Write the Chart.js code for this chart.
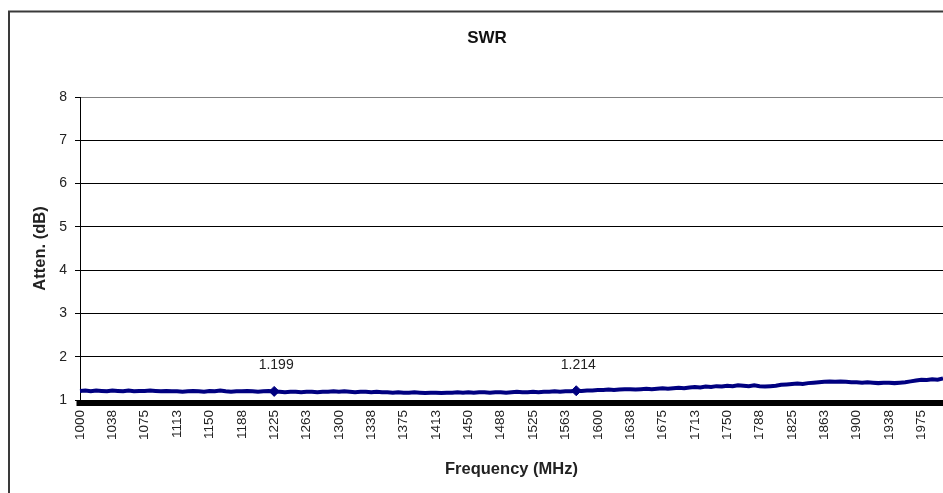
<!DOCTYPE html>
<html>
<head>
<meta charset="utf-8">
<script src="https://cdn.jsdelivr.net/npm/chart.js@4/dist/chart.umd.min.js"></script>
<style>
  html, body { margin: 0; padding: 0; background: #fff; overflow: hidden; }
  canvas { display: block; }
</style>
</head>
<body>
<canvas id="c" width="943" height="493"></canvas>
<script>
// Frequencies (MHz) — categories
const frequencies = [
  1000,1006.25,1012.5,1018.75,1025,1031.25,
  1037.5,1043.75,1050,1056.25,1062.5,1068.75,
  1075,1081.25,1087.5,1093.75,1100,1106.25,
  1112.5,1118.75,1125,1131.25,1137.5,1143.75,
  1150,1156.25,1162.5,1168.75,1175,1181.25,
  1187.5,1193.75,1200,1206.25,1212.5,1218.75,
  1225,1231.25,1237.5,1243.75,1250,1256.25,
  1262.5,1268.75,1275,1281.25,1287.5,1293.75,
  1300,1306.25,1312.5,1318.75,1325,1331.25,
  1337.5,1343.75,1350,1356.25,1362.5,1368.75,
  1375,1381.25,1387.5,1393.75,1400,1406.25,
  1412.5,1418.75,1425,1431.25,1437.5,1443.75,
  1450,1456.25,1462.5,1468.75,1475,1481.25,
  1487.5,1493.75,1500,1506.25,1512.5,1518.75,
  1525,1531.25,1537.5,1543.75,1550,1556.25,
  1562.5,1568.75,1575,1581.25,1587.5,1593.75,
  1600,1606.25,1612.5,1618.75,1625,1631.25,
  1637.5,1643.75,1650,1656.25,1662.5,1668.75,
  1675,1681.25,1687.5,1693.75,1700,1706.25,
  1712.5,1718.75,1725,1731.25,1737.5,1743.75,
  1750,1756.25,1762.5,1768.75,1775,1781.25,
  1787.5,1793.75,1800,1806.25,1812.5,1818.75,
  1825,1831.25,1837.5,1843.75,1850,1856.25,
  1862.5,1868.75,1875,1881.25,1887.5,1893.75,
  1900,1906.25,1912.5,1918.75,1925,1931.25,
  1937.5,1943.75,1950,1956.25,1962.5,1968.75,
  1975,1981.25,1987.5,1993.75,2000
];

// SWR values
const swrValues = [
  1.21,1.22,1.20,1.22,1.21,1.20,
  1.22,1.21,1.20,1.22,1.20,1.21,
  1.21,1.22,1.21,1.20,1.21,1.20,
  1.20,1.19,1.20,1.21,1.20,1.19,
  1.21,1.20,1.22,1.20,1.19,1.20,
  1.20,1.21,1.20,1.19,1.20,1.21,
  1.199,1.19,1.18,1.19,1.19,1.18,
  1.19,1.19,1.18,1.19,1.19,1.20,
  1.19,1.20,1.19,1.18,1.19,1.19,
  1.18,1.19,1.18,1.18,1.17,1.18,
  1.17,1.17,1.18,1.17,1.16,1.17,
  1.17,1.16,1.17,1.17,1.18,1.17,
  1.18,1.17,1.18,1.18,1.17,1.18,
  1.18,1.17,1.18,1.19,1.18,1.18,
  1.19,1.18,1.19,1.19,1.20,1.19,
  1.20,1.20,1.214,1.21,1.22,1.22,
  1.23,1.23,1.24,1.23,1.24,1.25,
  1.25,1.24,1.25,1.26,1.25,1.26,
  1.27,1.26,1.27,1.28,1.27,1.29,
  1.30,1.29,1.31,1.30,1.32,1.31,
  1.33,1.32,1.34,1.33,1.32,1.34,
  1.32,1.31,1.32,1.33,1.35,1.36,
  1.37,1.38,1.37,1.39,1.40,1.41,
  1.42,1.43,1.42,1.43,1.42,1.41,
  1.41,1.40,1.41,1.40,1.39,1.40,
  1.40,1.39,1.40,1.41,1.43,1.45,
  1.47,1.46,1.48,1.47,1.50
];

// Marked (labelled) points
const markerFreqs = [1225, 1575];

// X tick labels shown
const tickFreqs = [1000,1037.5,1075,1112.5,1150,1187.5,1225,1262.5,1300,1337.5,1375,1412.5,1450,1487.5,1525,1562.5,1600,1637.5,1675,1712.5,1750,1787.5,1825,1862.5,1900,1937.5,1975];
const tickLabels = ['1000','1038','1075','1113','1150','1188','1225','1263','1300','1338','1375','1413','1450','1488','1525','1563','1600','1638','1675','1713','1750','1788','1825','1863','1900','1938','1975'];

const chartTitle = 'SWR';

const FONT = "'Liberation Sans', Arial, sans-serif";
const NAVY = '#000080';

const framePlugin = {
  id: 'frame',
  beforeDraw(chart) {
    const ctx = chart.ctx;
    ctx.save();
    ctx.fillStyle = '#fff';
    ctx.fillRect(0, 0, chart.width, chart.height);
    ctx.strokeStyle = '#3a3a3a';
    ctx.lineWidth = 2;
    ctx.beginPath();
    ctx.moveTo(9, chart.height + 5);
    ctx.lineTo(9, 11.5);
    ctx.lineTo(chart.width + 5, 11.5);
    ctx.stroke();
    // chart title
    ctx.font = 'bold 17px ' + FONT;
    ctx.fillStyle = '#111';
    ctx.textAlign = 'center';
    ctx.textBaseline = 'middle';
    ctx.fillText(chartTitle, 487, 38);
    ctx.restore();
  }
};

const pointLabelPlugin = {
  id: 'pointLabels',
  afterDatasetsDraw(chart) {
    const ctx = chart.ctx;
    const meta = chart.getDatasetMeta(0);
    ctx.save();
    ctx.font = '14px ' + FONT;
    ctx.fillStyle = '#222';
    ctx.textAlign = 'center';
    ctx.textBaseline = 'middle';
    frequencies.forEach((f, i) => {
      if (markerFreqs.includes(f)) {
        const pt = meta.data[i];
        ctx.fillText(swrValues[i].toFixed(3), pt.x + 2, pt.y - 26);
      }
    });
    ctx.restore();
  }
};

new Chart(document.getElementById('c'), {
  type: 'line',
  data: {
    labels: frequencies,
    datasets: [{
      data: swrValues,
      borderColor: NAVY,
      backgroundColor: NAVY,
      borderWidth: 4,
      tension: 0,
      pointStyle: 'rectRot',
      pointRadius: (c) => markerFreqs.includes(frequencies[c.dataIndex]) ? 5 : 0,
      pointBorderWidth: 1,
      fill: false
    }]
  },
  options: {
    responsive: false,
    animation: false,
    devicePixelRatio: 1,
    layout: { padding: { top: 97, left: 0, right: 0, bottom: 0 } },
    plugins: {
      legend: { display: false },
      tooltip: { enabled: false },
      title: { display: false }
    },
    scales: {
      x: {
        type: 'category',
        offset: false,
        afterFit(scale) {
          scale.height = 93;
          scale.paddingLeft = 0;
          scale.paddingRight = 0;
        },
        border: { display: true, color: '#000', width: 1 },
        grid: {
          drawOnChartArea: false,
          drawTicks: true,
          tickLength: 6,
          tickWidth: 8,
          tickColor: '#000',
          color: '#000'
        },
        ticks: {
          autoSkip: false,
          maxRotation: 90,
          minRotation: 90,
          padding: 4,
          color: '#222',
          font: { family: FONT, size: 13.5 },
          callback(value, index) {
            const j = tickFreqs.indexOf(frequencies[index]);
            return j >= 0 ? tickLabels[j] : '';
          }
        },
        title: {
          display: true,
          text: 'Frequency (MHz)',
          color: '#222',
          font: { family: FONT, size: 16.5, weight: 'bold', lineHeight: 1.2 },
          padding: { top: 0, bottom: 14 }
        }
      },
      y: {
        min: 1,
        max: 8,
        afterFit(scale) {
          scale.width = 80;
          scale.paddingTop = 0;
          scale.paddingBottom = 0;
        },
        border: { display: true, color: '#000', width: 1 },
        grid: {
          color: (c) => c.tick && c.tick.value === 8 ? '#808080' : '#000',
          lineWidth: 1,
          tickLength: 5,
          tickColor: '#000'
        },
        ticks: {
          stepSize: 1,
          padding: 8,
          color: '#222',
          font: { family: FONT, size: 14 }
        },
        title: {
          display: true,
          text: 'Atten. (dB)',
          color: '#222',
          font: { family: FONT, size: 16.5, weight: 'bold', lineHeight: 1.2 },
          padding: { top: 31, bottom: 0 }
        }
      }
    }
  },
  plugins: [framePlugin, pointLabelPlugin]
});
</script>
</body>
</html>
